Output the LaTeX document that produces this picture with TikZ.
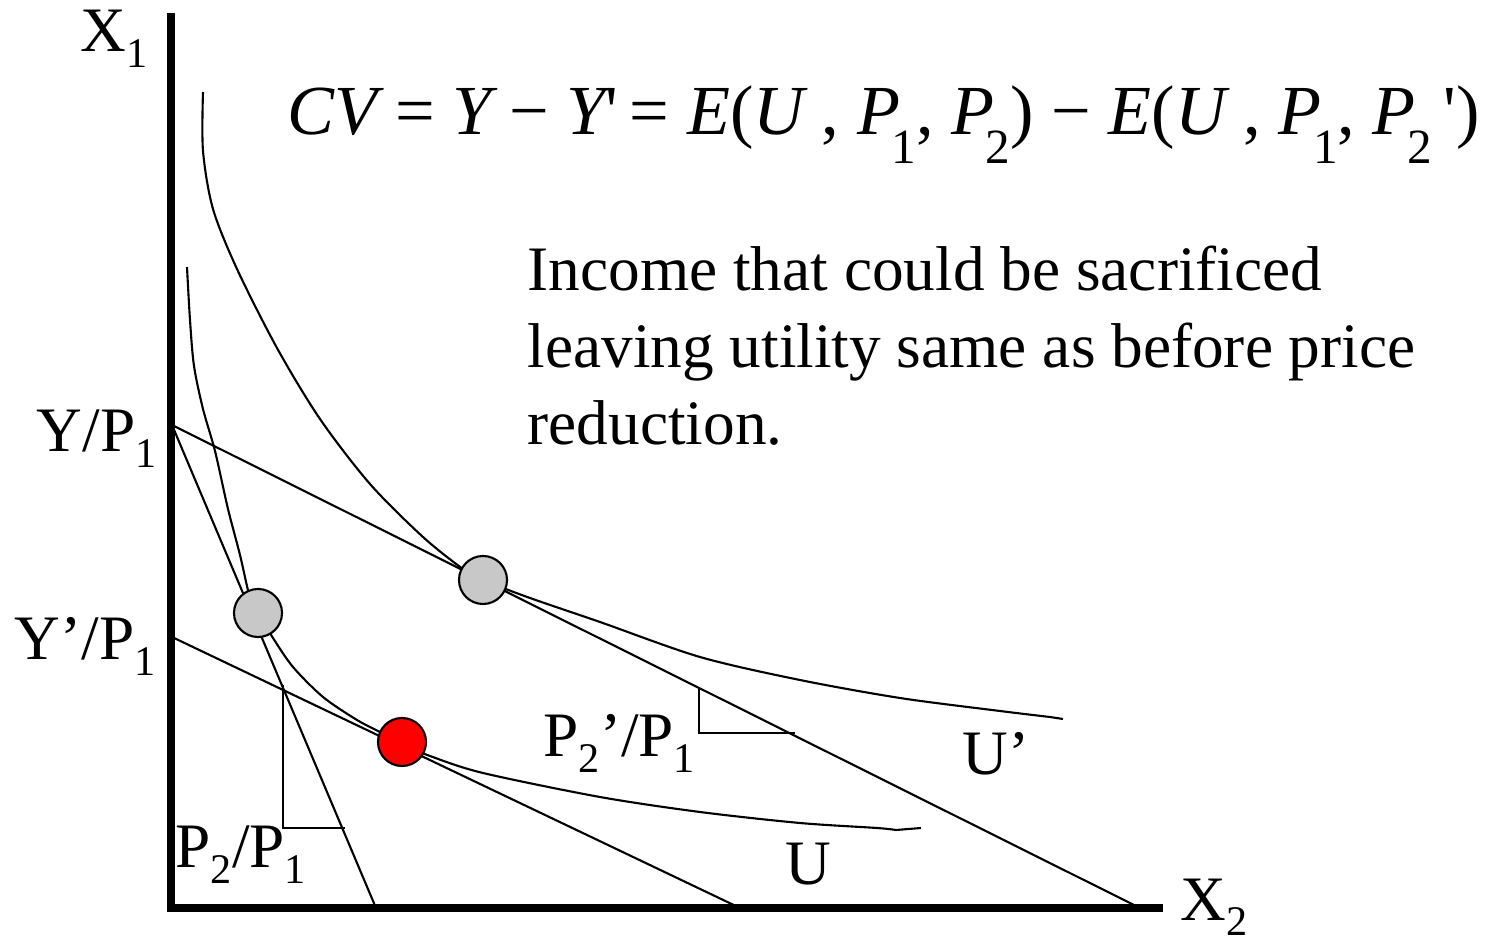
\documentclass[tikz,border=0pt]{standalone}
\usepackage{fontspec}
\setmainfont{Liberation Serif}
\newfontfamily\rawserif[Ligatures=TeXOff]{Liberation Serif}
\newcommand\lowidx[1]{\raisebox{-0.25em}{\fontsize{12}{12}\selectfont #1}}
\newcommand\fidx[1]{\kern-0.12em\raisebox{-0.4em}{\fontsize{14}{14}\selectfont #1}}
\newcommand\rawq{{\rawserif\upshape '}}
\definecolor{dotgrey}{RGB}{200,200,200}
\begin{document}
\begin{tikzpicture}[x=0.01cm, y=-0.01cm,
  lbl/.style={inner sep=0pt, anchor=base west, font=\fontsize{18}{21.9}\selectfont},
  eqdot/.style={circle, draw=black, line width=0.6pt, minimum size=0.48cm, inner sep=0pt},
  thin/.style={black, line width=0.6pt}]

\useasboundingbox (0,0) rectangle (1496,940);

% axes
\draw[black, line width=2.3pt] (171,13) -- (171,912);
\draw[black, line width=2.3pt] (167,908) -- (1163,908);

\coordinate (yp) at (172,425);
\coordinate (ypp) at (172,637);
\coordinate (xa) at (376,908);
\coordinate (xb) at (1140,908);
\coordinate (xc) at (740,908);

% budget lines
\draw[thin] (yp) -- (xa);
\draw[thin] (yp) -- (xb);
\draw[thin] (ypp) -- (xc);

% slope triangles
\draw[thin] (283,685) -- (283,828) -- (345,828);
\draw[thin] (699,687) -- (699,733) -- (795,733);

% indifference curves
\draw[thin] plot[smooth, tension=0.5] coordinates {(187,267) (190,320) (194,366) (203,409) (215,451) (228,509) (240,555) (250,598) (258,613) (273,638) (293,667) (323,697) (357,720) (380,732) (402,744) (430,756) (483,773) (600,797) (700,812) (800,823) (877,828) (896,830)} -- (921,828);
\draw[thin] plot[smooth, tension=0.5] coordinates {(203,92) (203,151) (213,209) (237,269) (277,348) (320,419) (370,484) (423,537) (463,569) (483,580) (530,598) (600,622) (700,657) (800,680) (900,698) (1000,711) (1050,717)} -- (1063,719);

% points
\node[eqdot, fill=dotgrey] (oldpt) at (258,613) {};
\node[eqdot, fill=dotgrey] (newpt) at (483,580) {};
\node[eqdot, fill=red] (cvpt) at (402,742) {};

% labels
\node[lbl] (xone) at (80,52) {X\lowidx{1}};
\node[lbl] (xtwo) at (1180,920) {X\lowidx{2}};
\node[lbl] (ylab) at (36,452) {Y/P\lowidx{1}};
\node[lbl] (yplab) at (14,660) {Y’/P\lowidx{1}};
\node[lbl] (slopeold) at (175,868) {P\lowidx{2}/P\lowidx{1}};
\node[lbl] (slopenew) at (543,757) {P\lowidx{2}’/P\lowidx{1}};
\node[lbl] (ulab) at (785,885) {U};
\node[lbl] (uplab) at (962,775) {U’};

\node[lbl, font=\fontsize{20}{24}\selectfont] (cvdef) at (287,135) {\itshape CV\upshape\ = \itshape Y\upshape\ − \itshape Y\rawq\upshape\,= \itshape E\upshape(\itshape U\upshape\ , \itshape P\upshape\fidx{1}, \itshape P\upshape\fidx{2}) − \itshape E\upshape(\itshape U\upshape\ , \itshape P\upshape\fidx{1}, \itshape P\upshape\fidx{2}\,\rawq)};

\node[lbl, align=left] (note) at (527,445) {Income that could be sacrificed\\leaving utility same as before price\\reduction.};

\end{tikzpicture}
\end{document}
